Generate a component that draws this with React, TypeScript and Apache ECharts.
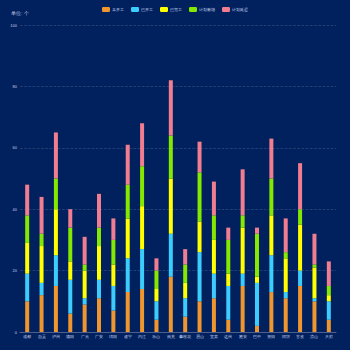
import React, { useEffect, useRef } from "react";
import * as echarts from "echarts";

const categories = ["成都", "自贡", "泸州", "德阳", "广元", "广安", "绵阳", "遂宁", "内江", "乐山", "南充", "攀枝花", "眉山", "宜宾", "达州", "雅安", "巴中", "资阳", "阿坝", "甘孜", "凉山", "天府"];
const seriesNames = ["未开工", "已开工", "已完工", "计划新增", "计划延迟"];
const notStarted = [10, 12, 15, 6, 9, 11, 7, 13, 14, 4, 18, 5, 10, 11, 4, 15, 2, 13, 11, 15, 10, 4];
const started = [9, 4, 10, 11, 2, 6, 8, 11, 13, 6, 14, 6, 16, 8, 11, 4, 14, 12, 2, 5, 1, 6];
const completed = [10, 12, 15, 6, 9, 11, 7, 13, 14, 4, 18, 5, 10, 11, 4, 15, 2, 13, 11, 15, 10, 2];
const planAdded = [9, 4, 10, 11, 2, 6, 8, 11, 13, 6, 14, 6, 16, 8, 11, 4, 14, 12, 2, 5, 1, 3];
const planDelayed = [10, 12, 15, 6, 9, 11, 7, 13, 14, 4, 18, 5, 10, 11, 4, 15, 2, 13, 11, 15, 10, 8];
const colors = ["#f0962f", "#3ccdfc", "#ffff00", "#84e800", "#f07d90"];
const yTicks = { min: 0, max: 100, interval: 20 };

export default function App() {
  const ref = useRef<HTMLDivElement>(null);
  useEffect(() => {
    const chart = echarts.init(ref.current!, null, { renderer: "svg" });
    const values = [notStarted, started, completed, planAdded, planDelayed];
    chart.setOption({
      animation: false,
      backgroundColor: "#00205e",
      color: colors,
      legend: {
        top: 2,
        left: "center",
        itemWidth: 8,
        itemHeight: 5,
        itemGap: 7,
        textStyle: { color: "#ccd6ee", fontSize: 4, padding: [0, 0, 0, -3] },
        data: seriesNames,
      },
      grid: { left: 20, right: 14, top: 25, bottom: 18, containLabel: false },
      xAxis: {
        type: "category",
        data: categories,
        axisLine: { lineStyle: { color: "#4a5f8c" } },
        axisTick: { lineStyle: { color: "#4a5f8c" }, length: 2 },
        axisLabel: { color: "#c8d2ea", fontSize: 3.5, margin: 3, interval: 0 },
      },
      yAxis: {
        type: "value",
        min: yTicks.min,
        max: yTicks.max,
        interval: yTicks.interval,
        name: "单位: 个",
        nameGap: 9,
        nameTextStyle: { color: "#c8d2ea", fontSize: 4.5, align: "center" },
        axisLine: { show: false },
        axisTick: { show: false },
        axisLabel: { color: "#c8d2ea", fontSize: 4, margin: 3 },
        splitLine: { lineStyle: { color: "#2e4a7e", type: "dashed", width: 0.7 } },
      },
      series: seriesNames.map((name, i) => ({
        name,
        type: "bar",
        stack: "total",
        barWidth: 4,
        data: values[i],
        itemStyle: { color: colors[i] },
      })),
    });
    return () => chart.dispose();
  }, []);
  return <div ref={ref} style={{ width: 350, height: 350, position: "absolute", left: 0, top: 0 }} />;
}
